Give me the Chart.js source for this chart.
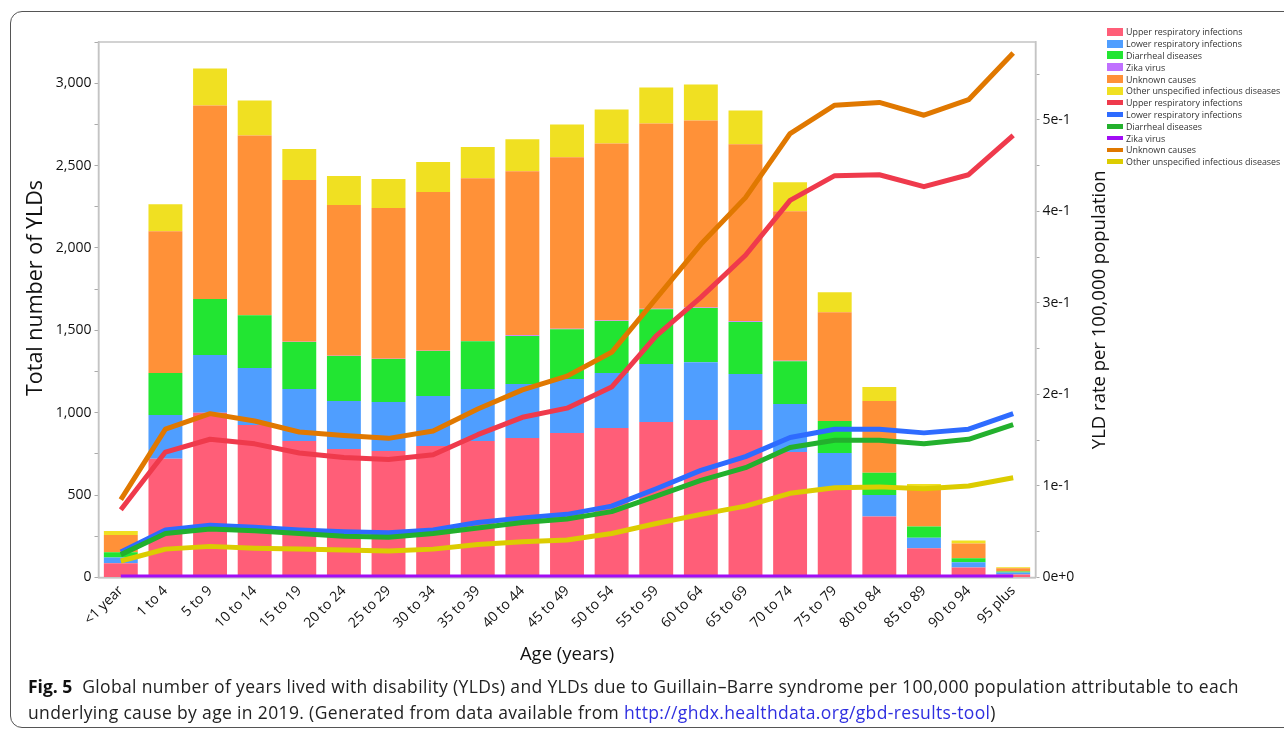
<!DOCTYPE html>
<html>
<head>
<meta charset="utf-8">
<script src="https://cdn.jsdelivr.net/npm/chart.js@4.4.0/dist/chart.umd.min.js"></script>
<style>
  html, body { margin: 0; padding: 0; background: #fff; }
  #wrap { position: relative; width: 1284px; height: 730px; overflow: hidden; background: #fff; }
  #frame { position: absolute; left: 10px; top: 11px; width: 1340px; height: 717px;
           border: 1.5px solid #555; border-radius: 12px; box-sizing: border-box; }
  #chart { position: absolute; left: 0; top: 0; }
  #legend { position: absolute; left: 1107px; top: 26px; font-family: "Open Sans", sans-serif;
            font-size: 8.9px; color: #333; }
  #legend .row { height: 11.8px; display: flex; align-items: center; white-space: nowrap; }
  #legend .sw { width: 16px; margin-right: 3px; flex: none; }
  #caption { position: absolute; left: 28px; top: 673px; font-family: "Open Sans", sans-serif;
             font-size: 17.5px; letter-spacing: 0.35px; line-height: 26px; color: #222; white-space: nowrap; }
  #caption b { color: #111; letter-spacing: 0; }
  #caption .url { color: #2f2fe0; }
</style>
</head>
<body>
<div id="wrap">
  <div id="frame"></div>
  <canvas id="chart" width="1284" height="680"></canvas>
  <div id="legend"></div>
  <div id="caption"><b>Fig. 5</b>&nbsp; Global number of years lived with disability (YLDs) and YLDs due to Guillain–Barre syndrome per 100,000 population attributable to each<br>underlying cause by age in 2019. (Generated from data available from <span class="url">http://ghdx.healthdata.org/gbd-results-tool</span>)</div>
</div>
<script>
// Age groups on the x axis
const ageGroups = ['<1 year', '1 to 4', '5 to 9', '10 to 14', '15 to 19', '20 to 24', '25 to 29',
  '30 to 34', '35 to 39', '40 to 44', '45 to 49', '50 to 54', '55 to 59', '60 to 64',
  '65 to 69', '70 to 74', '75 to 79', '80 to 84', '85 to 89', '90 to 94', '95 plus'];

// Number of YLDs per cause (stacked bars, left axis)
const yldUpperResp = [87, 720, 1000, 925, 829, 780, 768, 798, 829, 847, 877, 907, 944, 956, 895, 762, 544, 370, 178, 61, 18];
const yldLowerResp = [34, 266, 350, 346, 315, 291, 297, 303, 315, 327, 327, 334, 351, 351, 340, 291, 212, 131, 63, 32, 12];
const yldDiarrheal = [32, 255, 340, 321, 285, 273, 261, 273, 290, 291, 303, 315, 333, 328, 315, 260, 194, 134, 68, 24, 6];
const yldZika      = [0, 0, 0, 0, 2, 2, 2, 2, 2, 5, 3, 3, 3, 3, 5, 2, 0, 0, 0, 0, 0];
const yldUnknown   = [105, 860, 1175, 1090, 981, 915, 915, 963, 987, 996, 1040, 1075, 1125, 1136, 1074, 908, 660, 436, 238, 89, 20];
const yldOther     = [24, 164, 224, 213, 188, 175, 175, 182, 189, 194, 200, 206, 218, 218, 206, 176, 121, 85, 21, 18, 6];

// YLD rate per 100,000 population per cause (lines, right axis)
const rateUpperResp = [0.074, 0.137, 0.151, 0.146, 0.136, 0.131, 0.129, 0.134, 0.156, 0.175, 0.185, 0.208, 0.264, 0.306, 0.352, 0.412, 0.439, 0.440, 0.427, 0.440, 0.483];
const rateLowerResp = [0.028, 0.052, 0.057, 0.055, 0.052, 0.050, 0.049, 0.052, 0.060, 0.065, 0.069, 0.078, 0.097, 0.117, 0.132, 0.153, 0.162, 0.162, 0.158, 0.162, 0.179];
const rateDiarrheal = [0.025, 0.048, 0.053, 0.051, 0.048, 0.045, 0.044, 0.048, 0.054, 0.060, 0.064, 0.072, 0.089, 0.106, 0.120, 0.142, 0.150, 0.150, 0.146, 0.151, 0.167];
const rateZika      = [0.0005, 0.0005, 0.0005, 0.0005, 0.0005, 0.0005, 0.0005, 0.0005, 0.0005, 0.0005, 0.0005, 0.0005, 0.0005, 0.0005, 0.0005, 0.0005, 0.0005, 0.0005, 0.0005, 0.0005, 0.0005];
const rateUnknown   = [0.085, 0.162, 0.179, 0.171, 0.159, 0.155, 0.152, 0.160, 0.184, 0.205, 0.220, 0.246, 0.305, 0.364, 0.415, 0.485, 0.516, 0.519, 0.505, 0.522, 0.573];
const rateOther     = [0.018, 0.031, 0.034, 0.032, 0.031, 0.030, 0.029, 0.031, 0.036, 0.039, 0.041, 0.048, 0.059, 0.069, 0.078, 0.092, 0.098, 0.099, 0.097, 0.100, 0.109];

// Labelled ticks on both value axes
const countTicks = [0, 500, 1000, 1500, 2000, 2500, 3000];
const rateTicks = [0, 0.1, 0.2, 0.3, 0.4, 0.5];

const leftTitle = 'Total number of YLDs';
const rightTitle = 'YLD rate per 100,000 population';
const bottomTitle = 'Age (years)';

const FONT = '"Open Sans", "Noto Sans", sans-serif';
const AXIS_GRAY = '#c4c4c4';

function barSet(label, data, color) {
  return { type: 'bar', label, data, backgroundColor: color, yAxisID: 'yCount', stack: 'ylds',
           order: 2, barPercentage: 0.76, categoryPercentage: 1.0, borderWidth: 0 };
}
function lineSet(label, data, color, order) {
  return { type: 'line', label, data, borderColor: color, backgroundColor: color, yAxisID: 'yRate',
           order, borderWidth: 5, pointRadius: 0, tension: 0, fill: false,
           borderJoinStyle: 'round', borderCapStyle: 'butt' };
}

const datasets = [
  barSet('Upper respiratory infections', yldUpperResp, '#ff5e78'),
  barSet('Lower respiratory infections', yldLowerResp, '#4f9eff'),
  barSet('Diarrheal diseases', yldDiarrheal, '#22e532'),
  barSet('Zika virus', yldZika, '#c070ff'),
  barSet('Unknown causes', yldUnknown, '#ff9138'),
  barSet('Other unspecified infectious diseases', yldOther, '#f0e022'),
  lineSet('Upper respiratory infections', rateUpperResp, '#ef3a4c', 1),
  lineSet('Lower respiratory infections', rateLowerResp, '#2e6bff', 1.2),
  lineSet('Diarrheal diseases', rateDiarrheal, '#23b02d', 1.1),
  lineSet('Zika virus', rateZika, '#a20cf5', 0.5),
  lineSet('Unknown causes', rateUnknown, '#e07800', 1),
  lineSet('Other unspecified infectious diseases', rateOther, '#dccc00', 1)
];

// Major ticks from the arrays plus unlabelled minor ticks halfway between
function withMinor(major) {
  const out = [];
  for (let i = 0; i < major.length; i++) {
    out.push({ value: major[i], major: true });
    const step = (i + 1 < major.length ? major[i + 1] : major[i] + (major[1] - major[0])) - major[i];
    out.push({ value: major[i] + step / 2, major: false });
  }
  return out;
}

const plotFrame = {
  id: 'plotFrame',
  beforeDatasetsDraw(chart) {
    const { ctx, chartArea: a } = chart;
    ctx.save();
    ctx.strokeStyle = AXIS_GRAY;
    ctx.lineWidth = 1.5;
    ctx.strokeRect(a.left, a.top, a.right - a.left, a.bottom - a.top);
    ctx.restore();
  }
};

const axisTitles = {
  id: 'axisTitles',
  afterDraw(chart) {
    const ctx = chart.ctx;
    const a = chart.chartArea;
    ctx.save();
    ctx.fillStyle = '#111';
    ctx.textAlign = 'center';
    ctx.textBaseline = 'middle';
    ctx.font = '21.5px ' + FONT;
    ctx.save(); ctx.translate(36, 288); ctx.rotate(-Math.PI / 2); ctx.fillText(leftTitle, 0, 0); ctx.restore();
    ctx.font = '18.5px ' + FONT;
    ctx.save(); ctx.translate(1100, (a.top + a.bottom) / 2); ctx.rotate(-Math.PI / 2); ctx.fillText(rightTitle, 0, 0); ctx.restore();
    ctx.font = '18.5px ' + FONT;
    ctx.fillText(bottomTitle, (a.left + a.right) / 2, 655);
    ctx.restore();
  }
};

const chart = new Chart(document.getElementById('chart'), {
  data: { labels: ageGroups, datasets },
  options: {
    responsive: false,
    animation: false,
    layout: { padding: { top: 42, left: 0, right: 0, bottom: 0 } },
    plugins: { legend: { display: false }, tooltip: { enabled: false } },
    scales: {
      x: {
        stacked: true,
        offset: true,
        grid: { display: false, drawTicks: false },
        border: { color: AXIS_GRAY, width: 1.5 },
        ticks: { autoSkip: false, maxRotation: 45, minRotation: 45, padding: 5,
                 color: '#111', font: { family: FONT, size: 14 } },
        afterFit(s) { s.height = 680 - 577.5; }
      },
      yCount: {
        position: 'left',
        stacked: true,
        min: 0, max: 3250,
        afterBuildTicks(s) { s.ticks = withMinor(countTicks).filter(t => t.value <= 3250); },
        grid: { drawOnChartArea: false, drawTicks: true, tickLength: 4, tickColor: '#aaa' },
        border: { color: AXIS_GRAY, width: 1.5 },
        ticks: { padding: 3, color: '#111', font: { family: FONT, size: 14 },
                 callback(v) { return countTicks.includes(v) ? v.toLocaleString('en-US') : ''; } },
        afterFit(s) { s.width = 98.5; }
      },
      yRate: {
        position: 'right',
        min: 0, max: 0.585,
        afterBuildTicks(s) { s.ticks = withMinor(rateTicks).filter(t => t.value <= 0.585); },
        grid: { drawOnChartArea: false, drawTicks: true, tickLength: 4, tickColor: '#aaa' },
        border: { color: AXIS_GRAY, width: 1.5 },
        ticks: { padding: 3, color: '#111', font: { family: FONT, size: 14 },
                 callback(v) {
                   const k = Math.round(v * 20);
                   return k % 2 === 0 ? (k / 20).toExponential(0) : '';
                 } },
        afterFit(s) { s.width = 1284 - 1035.5; }
      }
    }
  },
  plugins: [plotFrame, axisTitles]
});

// Legend built from the chart's datasets: bars first, then lines
const legend = document.getElementById('legend');
chart.data.datasets.forEach(ds => {
  const row = document.createElement('div');
  row.className = 'row';
  const sw = document.createElement('span');
  sw.className = 'sw';
  sw.style.height = ds.type === 'bar' ? '8px' : '4.5px';
  sw.style.background = ds.type === 'bar' ? ds.backgroundColor : ds.borderColor;
  const tx = document.createElement('span');
  tx.textContent = ds.label;
  row.appendChild(sw);
  row.appendChild(tx);
  legend.appendChild(row);
});
</script>
</body>
</html>
